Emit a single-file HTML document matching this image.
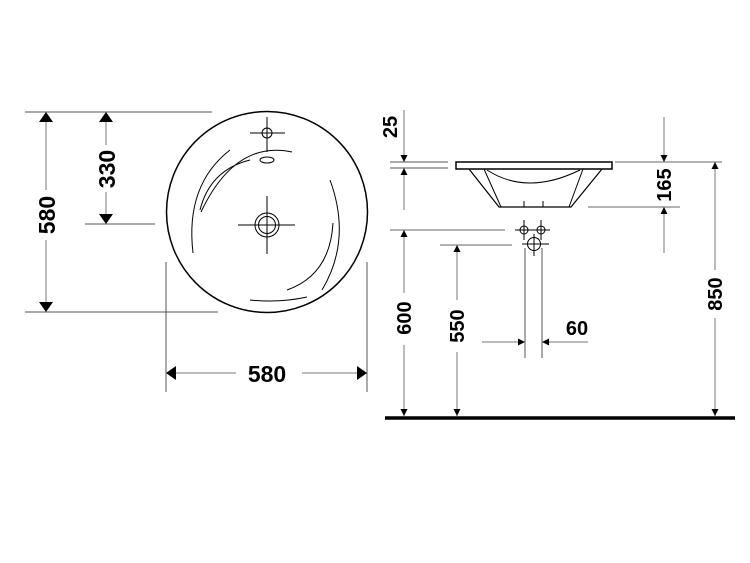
<!DOCTYPE html>
<html><head><meta charset="utf-8"><style>html,body{margin:0;padding:0;background:#fff}svg{display:block}</style></head>
<body>
<svg width="750" height="563" viewBox="0 0 750 563" xmlns="http://www.w3.org/2000/svg">
<defs>
<marker id="a" viewBox="0 0 10 10" refX="10" refY="5" markerWidth="7" markerHeight="7" orient="auto-start-reverse" markerUnits="userSpaceOnUse"><path d="M0,0 L10,5 L0,10 z" fill="#000"/></marker>
<marker id="b" viewBox="0 0 10 10" refX="10" refY="5" markerWidth="10" markerHeight="14" orient="auto-start-reverse" markerUnits="userSpaceOnUse" preserveAspectRatio="none"><path d="M0,0 L10,5 L0,10 z" fill="#000"/></marker>
</defs>
<g stroke="#000" fill="none" stroke-width="1">
<line x1="25" y1="112" x2="212" y2="112" stroke="#555"/>
<line x1="25" y1="312" x2="218" y2="312" stroke="#555"/>
<line x1="85" y1="224" x2="155" y2="224" stroke="#555"/>
<line x1="46" y1="112" x2="46" y2="190" stroke="#777" marker-start="url(#b)"/>
<line x1="46" y1="240" x2="46" y2="312" stroke="#777" marker-end="url(#b)"/>
<line x1="106" y1="112" x2="106" y2="145" stroke="#777" marker-start="url(#b)"/>
<line x1="106" y1="192" x2="106" y2="224" stroke="#777" marker-end="url(#b)"/>
<circle cx="267" cy="212" r="100.5" stroke-width="1.5"/>
<circle cx="267" cy="133" r="5"/>
<line x1="250" y1="133" x2="285" y2="133"/>
<line x1="267" y1="117" x2="267" y2="152"/>
<ellipse cx="267" cy="160" rx="7" ry="3"/>
<circle cx="267" cy="225" r="12"/>
<circle cx="267" cy="225" r="8.5"/>
<line x1="238" y1="225" x2="295" y2="225"/>
<line x1="267" y1="196" x2="267" y2="254"/>
<path d="M230,150 Q185,185 193,253"/>
<path d="M292,152 Q235,140 201,212"/>
<path d="M250,160 Q210,170 200,210"/>
<path d="M330,180 Q352,240 322,290"/>
<path d="M333,223 Q330,275 287,290"/>
<path d="M250,300 Q280,303 307,297"/>
<line x1="166" y1="262" x2="166" y2="392" stroke="#555"/>
<line x1="367" y1="262" x2="367" y2="392" stroke="#555"/>
<line x1="166" y1="373" x2="236" y2="373" stroke="#777" marker-start="url(#b)"/>
<line x1="302" y1="373" x2="367" y2="373" stroke="#777" marker-end="url(#b)"/>
<line x1="390" y1="162" x2="448" y2="162" stroke="#555"/>
<line x1="390" y1="168" x2="448" y2="168" stroke="#555"/>
<line x1="404" y1="110" x2="404" y2="162" stroke="#777" marker-end="url(#a)"/>
<line x1="404" y1="168" x2="404" y2="210" stroke="#777" marker-start="url(#a)"/>
<rect x="456" y="162" width="156" height="7" stroke-width="1.5"/>
<polyline points="469,169 499,207 571,207 602,169" stroke-width="1.2"/>
<line x1="484" y1="169" x2="501" y2="207"/>
<line x1="583" y1="169" x2="569" y2="207"/>
<path d="M487,170 Q527,196 580,170"/>
<line x1="524" y1="201" x2="524" y2="207"/>
<line x1="543" y1="201" x2="543" y2="207"/>
<line x1="615" y1="162" x2="722" y2="162" stroke="#666"/>
<line x1="588" y1="207" x2="680" y2="207" stroke="#666"/>
<line x1="664" y1="117" x2="664" y2="162" stroke="#777" marker-end="url(#a)"/>
<line x1="664" y1="207" x2="664" y2="253" stroke="#777" marker-start="url(#a)"/>
<line x1="715" y1="162" x2="715" y2="270" stroke="#777" marker-start="url(#a)"/>
<line x1="715" y1="318" x2="715" y2="416" stroke="#777" marker-end="url(#a)"/>
<circle cx="524" cy="230" r="4"/>
<circle cx="541" cy="230" r="4"/>
<circle cx="534" cy="244" r="6.5"/>
<line x1="515" y1="230" x2="550" y2="230"/>
<line x1="524" y1="220" x2="524" y2="240"/>
<line x1="541" y1="220" x2="541" y2="240"/>
<line x1="522" y1="244" x2="549" y2="244"/>
<line x1="534" y1="234" x2="534" y2="256"/>
<line x1="525" y1="248" x2="525" y2="358" stroke="#555"/>
<line x1="542" y1="248" x2="542" y2="358" stroke="#555"/>
<line x1="390" y1="230" x2="505" y2="230" stroke="#666"/>
<line x1="440" y1="245" x2="512" y2="245" stroke="#666"/>
<line x1="404" y1="230" x2="404" y2="293" stroke="#777" marker-start="url(#a)"/>
<line x1="404" y1="345" x2="404" y2="416" stroke="#777" marker-end="url(#a)"/>
<line x1="457" y1="245" x2="457" y2="300" stroke="#777" marker-start="url(#a)"/>
<line x1="457" y1="352" x2="457" y2="416" stroke="#777" marker-end="url(#a)"/>
<line x1="482" y1="342" x2="525" y2="342" stroke="#777" marker-end="url(#a)"/>
<line x1="542" y1="342" x2="588" y2="342" stroke="#777" marker-start="url(#a)"/>
<line x1="385" y1="418" x2="735" y2="418" stroke-width="3.5"/>
</g>
<g font-family="Liberation Sans, sans-serif" font-weight="bold" fill="#000" text-anchor="middle">
<text x="0" y="0" font-size="23" transform="translate(55,215) rotate(-90)">580</text>
<text x="0" y="0" font-size="23" transform="translate(115,169) rotate(-90)">330</text>
<text x="267" y="382" font-size="23">580</text>
<text x="0" y="0" font-size="20" transform="translate(397,127) rotate(-90)">25</text>
<text x="0" y="0" font-size="20" transform="translate(671,185) rotate(-90)">165</text>
<text x="0" y="0" font-size="20" transform="translate(722,294) rotate(-90)">850</text>
<text x="0" y="0" font-size="20" transform="translate(411,318) rotate(-90)">600</text>
<text x="0" y="0" font-size="20" transform="translate(464,326) rotate(-90)">550</text>
<text x="577" y="335" font-size="20">60</text>
</g>
</svg>
</body></html>
